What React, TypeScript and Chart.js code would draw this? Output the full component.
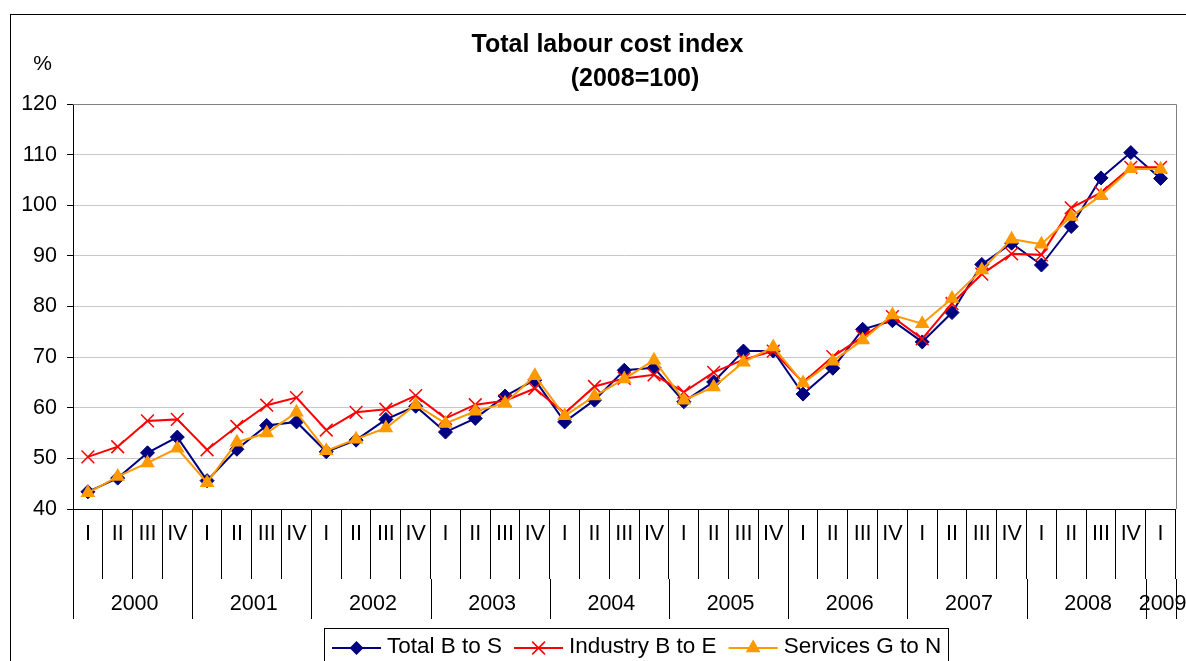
import React, { useEffect, useRef } from 'react';
import { Chart, registerables } from 'chart.js';

Chart.register(...registerables);

const FONT = "'Liberation Sans', Arial, Helvetica, sans-serif";

const QUARTERS = [
  'I', 'II', 'III', 'IV', 'I', 'II', 'III', 'IV', 'I', 'II', 'III', 'IV',
  'I', 'II', 'III', 'IV', 'I', 'II', 'III', 'IV', 'I', 'II', 'III', 'IV',
  'I', 'II', 'III', 'IV', 'I', 'II', 'III', 'IV', 'I', 'II', 'III', 'IV',
  'I',
];
const YEARS = ['2000', '2001', '2002', '2003', '2004', '2005', '2006', '2007', '2008', '2009'];

const TOTAL = [
  43.4, 46.1, 51.1, 54.2, 45.6, 51.8, 56.5, 57.2, 51.3, 53.6, 57.7, 60.3,
  55.2, 57.9, 62.3, 65.5, 57.2, 61.5, 67.4, 67.9, 61.2, 65.1, 71.2, 71.2,
  62.7, 67.8, 75.5, 77.2, 73.0, 78.8, 88.3, 92.5, 88.2, 95.8, 105.4, 110.4,
  105.3,
];
const INDUSTRY = [
  50.3, 52.3, 57.4, 57.7, 51.7, 56.3, 60.5, 62.0, 55.6, 59.1, 59.7, 62.4,
  57.9, 60.6, 61.4, 63.8, 58.9, 64.2, 65.8, 66.5, 63.1, 67.0, 69.5, 71.2,
  65.0, 70.1, 74.0, 78.0, 73.6, 80.6, 86.4, 90.4, 90.2, 99.5, 102.5, 107.5,
  107.5,
];
const SERVICES = [
  43.2, 46.4, 49.1, 52.0, 45.2, 53.2, 55.0, 59.1, 51.5, 53.8, 56.0, 60.6,
  56.9, 59.3, 60.9, 66.3, 58.4, 62.3, 65.7, 69.4, 61.5, 64.1, 69.0, 72.0,
  64.9, 69.2, 73.4, 78.3, 76.6, 81.6, 87.2, 93.3, 92.3, 97.8, 101.9, 107.2,
  107.1,
];

const SERIES_NAMES = ['Total B to S', 'Industry B to E', 'Services G to N'];
const TITLE_LINES = ['Total labour cost index', '(2008=100)'];
const Y_UNIT = '%';

const NAVY = '#000080';
const RED = '#FF0000';
const ORANGE = '#FF9900';

function drawMarker(ctx: CanvasRenderingContext2D, style: string, x: number, y: number, color: string) {
  ctx.save();
  ctx.fillStyle = color;
  ctx.strokeStyle = color;
  ctx.beginPath();
  if (style === 'diamond') {
    const r = 7;
    ctx.moveTo(x, y - r);
    ctx.lineTo(x + r, y);
    ctx.lineTo(x, y + r);
    ctx.lineTo(x - r, y);
    ctx.closePath();
    ctx.fill();
  } else if (style === 'cross') {
    const r = 6.4;
    ctx.lineWidth = 1.5;
    ctx.moveTo(x - r, y - r);
    ctx.lineTo(x + r, y + r);
    ctx.moveTo(x + r, y - r);
    ctx.lineTo(x - r, y + r);
    ctx.stroke();
  } else {
    const r = 8.5;
    ctx.moveTo(x, y - r);
    ctx.lineTo(x + 0.866 * r, y + 0.5 * r);
    ctx.lineTo(x - 0.866 * r, y + 0.5 * r);
    ctx.closePath();
    ctx.fill();
  }
  ctx.restore();
}

const decor = {
  id: 'decor',
  beforeDraw(chart: any) {
    const { ctx, width, height } = chart;
    ctx.save();
    ctx.fillStyle = '#ffffff';
    ctx.fillRect(0, 0, width, height);
    ctx.strokeStyle = '#000000';
    ctx.lineWidth = 1;
    ctx.strokeRect(10.5, 14.5, width + 40, height + 40);
    ctx.restore();
  },
  afterDraw(chart: any) {
    const { ctx, chartArea } = chart;
    const xs = chart.scales.x;
    ctx.save();
    // plot area border (top / right)
    ctx.strokeStyle = '#808080';
    ctx.lineWidth = 1;
    ctx.beginPath();
    ctx.moveTo(chartArea.left, Math.round(chartArea.top) + 0.5);
    ctx.lineTo(Math.round(chartArea.right) + 0.5, Math.round(chartArea.top) + 0.5);
    ctx.lineTo(Math.round(chartArea.right) + 0.5, Math.round(chartArea.bottom));
    ctx.stroke();

    // year level of the category axis
    const tickEnd = chartArea.bottom + 70;
    const yearEnd = chartArea.bottom + 110;
    ctx.strokeStyle = '#000000';
    ctx.fillStyle = '#000000';
    ctx.font = `21.5px ${FONT}`;
    ctx.textAlign = 'center';
    ctx.textBaseline = 'alphabetic';
    const n = QUARTERS.length;
    YEARS.forEach((yr, k) => {
      const s = k * 4;
      const e = Math.min(s + 4, n);
      const x0 = xs.getPixelForValue(s - 0.5);
      const x1 = xs.getPixelForValue(e - 0.5);
      ctx.beginPath();
      ctx.moveTo(Math.round(x0) + 0.5, tickEnd);
      ctx.lineTo(Math.round(x0) + 0.5, yearEnd);
      if (e === n) {
        ctx.moveTo(Math.round(x1) + 0.5, tickEnd);
        ctx.lineTo(Math.round(x1) + 0.5, yearEnd);
      }
      ctx.stroke();
      ctx.fillText(yr, (x0 + x1) / 2 + 2, chartArea.bottom + 101);
    });

    // title
    ctx.font = `bold 25px ${FONT}`;
    ctx.fillText(TITLE_LINES[0], 607.5, 51.5);
    ctx.fillText(TITLE_LINES[1], 635, 85.5);

    // unit
    ctx.font = `21px ${FONT}`;
    ctx.fillText(Y_UNIT, 42.5, 70);

    // legend
    const colors = [NAVY, RED, ORANGE];
    const styles = ['diamond', 'cross', 'triangle'];
    ctx.font = `22.5px ${FONT}`;
    ctx.textAlign = 'left';
    let lx = 332;
    const ly = 648;
    const lineLen = 49;
    SERIES_NAMES.forEach((name, i) => {
      ctx.strokeStyle = colors[i];
      ctx.lineWidth = 2;
      ctx.beginPath();
      ctx.moveTo(lx, ly);
      ctx.lineTo(lx + lineLen, ly);
      ctx.stroke();
      drawMarker(ctx, styles[i], lx + lineLen / 2, ly, colors[i]);
      ctx.fillStyle = '#000000';
      ctx.fillText(name, lx + lineLen + 6, 653);
      lx += lineLen + 6 + ctx.measureText(name).width + 12;
    });
    ctx.strokeStyle = '#000000';
    ctx.lineWidth = 1;
    ctx.strokeRect(324.5, 628.5, 624, 60);
    ctx.restore();
  },
};

export default function App() {
  const ref = useRef<HTMLCanvasElement | null>(null);

  useEffect(() => {
    if (!ref.current) return;
    Chart.defaults.font.family = FONT;
    const chart = new Chart(ref.current, {
      type: 'line',
      data: {
        labels: QUARTERS,
        datasets: [
          {
            label: SERIES_NAMES[0],
            data: TOTAL,
            borderColor: NAVY,
            backgroundColor: NAVY,
            borderWidth: 2,
            pointStyle: 'rectRot',
            pointRadius: 7,
            pointBorderWidth: 1,
            pointBackgroundColor: NAVY,
            pointBorderColor: NAVY,
            tension: 0,
            order: 3,
          },
          {
            label: SERIES_NAMES[1],
            data: INDUSTRY,
            borderColor: RED,
            backgroundColor: RED,
            borderWidth: 2,
            pointStyle: 'crossRot',
            pointRadius: 9,
            pointBorderWidth: 1.5,
            pointBorderColor: RED,
            tension: 0,
            order: 2,
          },
          {
            label: SERIES_NAMES[2],
            data: SERVICES,
            borderColor: ORANGE,
            backgroundColor: ORANGE,
            borderWidth: 2,
            pointStyle: 'triangle',
            pointRadius: 8.5,
            pointBorderWidth: 0,
            pointBackgroundColor: ORANGE,
            pointBorderColor: ORANGE,
            tension: 0,
            order: 1,
          },
        ],
      },
      options: {
        responsive: false,
        animation: false,
        events: [],
        layout: { padding: { left: 10, right: 9, top: 104, bottom: 0 } },
        plugins: {
          legend: { display: false },
          title: { display: false },
          tooltip: { enabled: false },
        },
        scales: {
          x: {
            type: 'category',
            offset: true,
            afterFit: (s: any) => { s.height = 152; },
            grid: {
              offset: true,
              drawOnChartArea: false,
              drawTicks: true,
              tickLength: 70,
              tickColor: '#000000',
              tickWidth: 1,
            },
            border: { display: true, color: '#000000', width: 1 },
            ticks: {
              autoSkip: false,
              maxRotation: 0,
              minRotation: 0,
              padding: -58,
              color: '#000000',
              font: { size: 21.5, family: FONT },
            },
          },
          y: {
            min: 40,
            max: 120,
            afterFit: (s: any) => { s.width = 63; },
            grid: {
              color: (c: any) => (c.tick && c.tick.value === 120 ? '#808080' : '#c8c8c8'),
              tickColor: '#000000',
              tickLength: 6,
              lineWidth: 1,
            },
            border: { display: true, color: '#000000', width: 1 },
            ticks: {
              stepSize: 10,
              padding: 10,
              color: '#000000',
              font: { size: 21.5, family: FONT },
            },
          },
        },
      },
      plugins: [decor],
    } as any);
    return () => chart.destroy();
  }, []);

  return (
    <div style={{ position: 'absolute', left: 0, top: 0, width: 1186, height: 661, overflow: 'hidden', background: '#fff' }}>
      <canvas ref={ref} width={1186} height={661} style={{ display: 'block' }} />
    </div>
  );
}
